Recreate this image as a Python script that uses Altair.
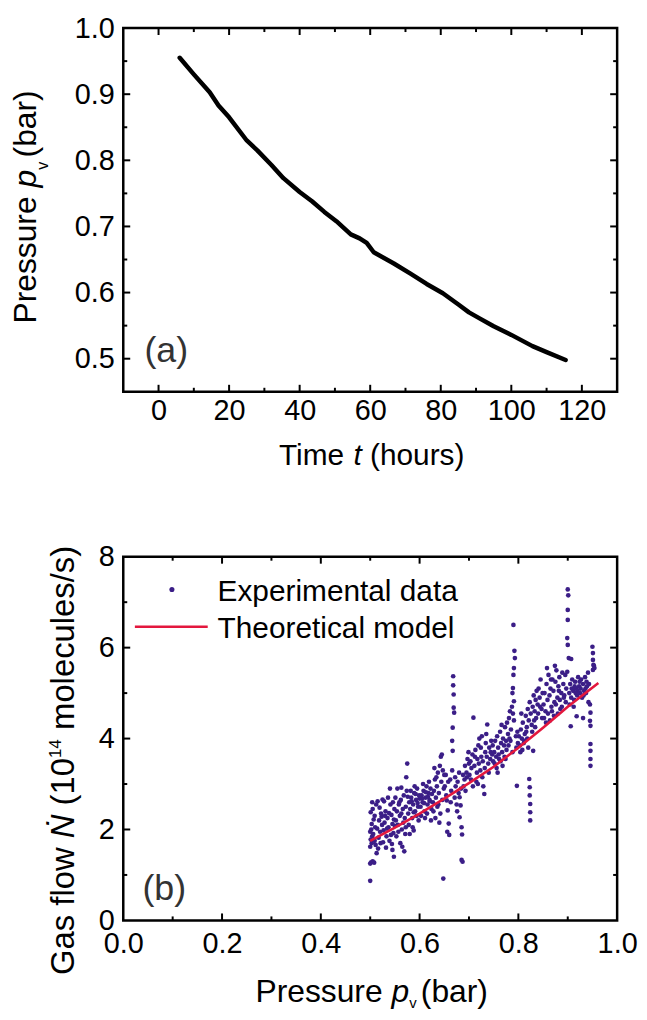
import altair as alt
import pandas as pd

FONT = "Liberation Sans"
INK = "#000000"
DOT = "#3b1e87"
RED = "#e3173d"
TAG = "#333333"

# ---------------- panel (a): pressure vs time ----------------
time_h = [6.0, 10, 14.5, 17, 20, 25, 28, 32, 35.4, 40, 43.5, 47, 50.4, 54.5, 57,
          59, 61, 66.7, 71.3, 76, 80.6, 85, 88, 91, 95, 100, 106, 110, 115.4]
pressure_a = [0.955, 0.930, 0.903, 0.883, 0.865, 0.830, 0.815, 0.793, 0.773, 0.752,
              0.738, 0.722, 0.708, 0.688, 0.682, 0.675, 0.661, 0.644, 0.629, 0.613,
              0.599, 0.582, 0.570, 0.561, 0.549, 0.536, 0.519, 0.510, 0.498]

a_x_labels = [0, 20, 40, 60, 80, 100, 120]
a_x_minor = [10, 30, 50, 70, 90, 110]
a_y_labels = [0.5, 0.6, 0.7, 0.8, 0.9, 1.0]
a_y_major = [0.5, 0.6, 0.7, 0.8, 0.9]
a_y_minor = [0.55, 0.65, 0.75, 0.85, 0.95]

# ---------------- panel (b): gas flow vs pressure ----------------
exp_points = [
    # 0.50 - 0.525
    (0.500, 0.87), (0.500, 1.25), (0.502, 1.28), (0.505, 1.30), (0.508, 1.27), (0.500, 1.62),
    (0.503, 1.70), (0.501, 1.78), (0.504, 1.85), (0.500, 1.95), (0.502, 2.00), (0.506, 1.90),
    (0.509, 1.75), (0.511, 1.66), (0.513, 1.48), (0.510, 2.05), (0.503, 2.12), (0.507, 2.22),
    (0.501, 2.38), (0.505, 2.45), (0.509, 2.30), (0.512, 2.55), (0.504, 2.60), (0.515, 2.62),
    (0.518, 2.20), (0.520, 1.95), (0.517, 1.82), (0.522, 2.35), (0.524, 2.10), (0.519, 2.48),
    (0.514, 2.02), (0.521, 1.70), (0.516, 1.58), (0.525, 2.66), (0.523, 2.28),
    # 0.525 - 0.55
    (0.527, 1.98), (0.529, 2.15), (0.531, 2.40), (0.533, 1.85), (0.535, 2.25), (0.537, 2.05),
    (0.539, 1.75), (0.541, 2.55), (0.543, 2.32), (0.545, 2.12), (0.547, 1.92), (0.549, 2.45),
    (0.528, 2.62), (0.532, 1.60), (0.536, 2.70), (0.540, 2.90), (0.544, 1.68), (0.548, 2.22),
    (0.530, 2.30), (0.534, 2.02), (0.538, 2.36), (0.542, 1.88), (0.546, 2.60), (0.550, 2.08),
    (0.526, 1.72), (0.545, 1.55), (0.548, 1.40),
    # 0.55 - 0.575
    (0.552, 2.20), (0.554, 2.40), (0.556, 2.10), (0.558, 2.55), (0.560, 2.30), (0.562, 2.65),
    (0.564, 2.00), (0.566, 2.45), (0.568, 2.75), (0.570, 2.25), (0.572, 2.50), (0.574, 2.85),
    (0.553, 1.85), (0.557, 1.95), (0.561, 1.70), (0.565, 1.62), (0.569, 1.52), (0.571, 1.90),
    (0.573, 3.15), (0.575, 3.45), (0.555, 2.90), (0.559, 2.60), (0.563, 2.35), (0.567, 2.15),
    (0.551, 2.70), (0.563, 2.92), (0.572, 2.05),
    # 0.575 - 0.60
    (0.577, 2.35), (0.579, 2.60), (0.581, 2.45), (0.583, 2.70), (0.585, 2.25), (0.587, 2.55),
    (0.589, 2.80), (0.591, 2.40), (0.593, 2.65), (0.595, 2.90), (0.597, 2.50), (0.599, 2.75),
    (0.578, 2.10), (0.582, 2.85), (0.586, 2.05), (0.590, 2.95), (0.594, 2.30), (0.598, 2.20),
    (0.580, 1.90), (0.584, 2.62), (0.588, 2.38), (0.592, 2.78), (0.596, 2.58), (0.600, 2.68),
    (0.576, 2.72), (0.588, 1.98),
    # 0.60 - 0.625
    (0.602, 2.50), (0.604, 2.75), (0.606, 2.60), (0.608, 2.85), (0.610, 2.40), (0.612, 2.70),
    (0.614, 2.95), (0.616, 2.55), (0.618, 2.80), (0.620, 2.65), (0.622, 2.90), (0.624, 2.45),
    (0.603, 2.30), (0.607, 3.00), (0.611, 2.25), (0.615, 2.35), (0.619, 3.05), (0.623, 2.20),
    (0.605, 2.68), (0.609, 2.58), (0.613, 2.82), (0.617, 2.72), (0.621, 2.62), (0.625, 2.78),
    # 0.625 - 0.65
    (0.627, 2.60), (0.629, 2.85), (0.631, 3.10), (0.633, 2.70), (0.635, 2.95), (0.637, 3.25),
    (0.639, 2.80), (0.641, 3.40), (0.643, 3.60), (0.645, 3.65), (0.647, 3.30), (0.649, 2.90),
    (0.628, 2.40), (0.632, 2.25), (0.636, 2.50), (0.640, 2.15), (0.644, 3.05), (0.648, 0.92),
    (0.646, 2.65), (0.642, 2.35), (0.630, 3.35), (0.634, 3.15), (0.638, 2.55), (0.650, 3.20),
    # 0.65 - 0.70
    (0.651, 2.95), (0.653, 3.20), (0.655, 2.64), (0.657, 2.42), (0.659, 2.13), (0.656, 1.95),
    (0.660, 1.88), (0.662, 3.10), (0.664, 2.85), (0.666, 3.30), (0.668, 5.37), (0.668, 5.17),
    (0.669, 4.97), (0.669, 4.68), (0.670, 4.57), (0.667, 4.24), (0.666, 3.95), (0.667, 3.73),
    (0.671, 2.70), (0.673, 2.95), (0.675, 2.55), (0.677, 3.05), (0.679, 2.80), (0.681, 2.71),
    (0.683, 2.53), (0.681, 2.27), (0.685, 2.05), (0.686, 1.89), (0.687, 1.29), (0.685, 1.33),
    (0.689, 2.95), (0.691, 3.10), (0.693, 2.85), (0.695, 3.25), (0.697, 3.55), (0.699, 3.70),
    (0.654, 2.75), (0.658, 3.05), (0.663, 2.60), (0.672, 3.15), (0.676, 2.40), (0.680, 3.25),
    (0.684, 2.90), (0.688, 3.20), (0.692, 3.40), (0.696, 3.15), (0.700, 3.45),
    # 0.70 - 0.75
    (0.701, 3.20), (0.703, 3.50), (0.705, 3.35), (0.707, 3.65), (0.709, 4.46), (0.711, 3.40),
    (0.713, 3.75), (0.715, 3.05), (0.717, 3.55), (0.719, 3.85), (0.721, 4.00), (0.723, 3.30),
    (0.725, 3.60), (0.727, 3.15), (0.729, 2.95), (0.731, 2.78), (0.733, 3.70), (0.735, 4.10),
    (0.737, 4.31), (0.739, 3.45), (0.741, 3.80), (0.743, 3.55), (0.745, 3.95), (0.747, 3.65),
    (0.749, 3.50), (0.704, 3.10), (0.708, 2.95), (0.712, 3.60), (0.716, 3.25), (0.720, 3.45),
    (0.724, 3.80), (0.728, 3.50), (0.732, 3.35), (0.736, 3.60), (0.740, 3.25), (0.744, 3.70),
    (0.748, 3.85), (0.718, 3.00), (0.726, 4.05), (0.734, 3.90),
    # 0.75 - 0.80
    (0.751, 3.70), (0.753, 3.95), (0.755, 3.60), (0.757, 4.05), (0.759, 3.80), (0.761, 3.55),
    (0.763, 4.15), (0.765, 3.90), (0.767, 3.70), (0.769, 4.00), (0.771, 3.85), (0.773, 4.25),
    (0.775, 3.95), (0.777, 4.35), (0.779, 4.10), (0.781, 4.45), (0.783, 4.60), (0.785, 4.20),
    (0.787, 4.70), (0.789, 4.55), (0.791, 4.40), (0.790, 6.50), (0.792, 5.93), (0.793, 5.77),
    (0.791, 5.55), (0.790, 5.40), (0.789, 5.11), (0.788, 5.00), (0.791, 4.82), (0.797, 2.96),
    (0.795, 4.05), (0.799, 3.90), (0.752, 3.45), (0.756, 3.35), (0.760, 3.65), (0.764, 3.50),
    (0.768, 3.40), (0.772, 3.60), (0.776, 3.75), (0.780, 3.85), (0.784, 3.95), (0.788, 3.70),
    (0.796, 3.80), (0.798, 4.15), (0.774, 3.55), (0.758, 3.25), (0.766, 4.30), (0.782, 4.00),
    # 0.80 - 0.85
    (0.801, 4.05), (0.803, 3.85), (0.805, 4.20), (0.807, 4.00), (0.809, 4.35), (0.811, 3.90),
    (0.813, 4.10), (0.815, 4.50), (0.817, 4.25), (0.819, 4.65), (0.821, 4.40), (0.823, 4.80),
    (0.825, 4.55), (0.827, 4.30), (0.829, 4.70), (0.831, 4.95), (0.833, 4.60), (0.835, 4.85),
    (0.837, 5.05), (0.839, 4.75), (0.841, 5.10), (0.843, 4.90), (0.845, 5.30), (0.847, 4.65),
    (0.849, 5.00), (0.822, 3.11), (0.823, 2.93), (0.823, 2.75), (0.824, 2.56), (0.824, 2.38),
    (0.824, 2.20), (0.830, 3.73), (0.804, 3.70), (0.808, 3.75), (0.812, 3.95), (0.816, 4.15),
    (0.820, 3.80), (0.828, 4.15), (0.832, 4.40), (0.836, 4.45), (0.840, 4.55), (0.844, 4.70),
    (0.848, 4.45), (0.806, 4.55), (0.818, 4.00), (0.834, 4.25),
    # 0.85 - 0.90
    (0.851, 4.75), (0.853, 5.00), (0.855, 4.60), (0.857, 5.20), (0.859, 4.85), (0.861, 5.40),
    (0.863, 4.95), (0.865, 5.10), (0.867, 4.70), (0.869, 5.30), (0.871, 5.05), (0.873, 4.80),
    (0.875, 5.25), (0.877, 5.50), (0.879, 4.90), (0.881, 5.15), (0.883, 5.35), (0.885, 4.65),
    (0.887, 5.00), (0.889, 5.45), (0.891, 5.20), (0.893, 4.95), (0.895, 5.40), (0.897, 5.10),
    (0.899, 5.47), (0.900, 7.28), (0.901, 7.15), (0.900, 6.83), (0.900, 6.61), (0.899, 6.21),
    (0.900, 6.06), (0.902, 5.77), (0.907, 5.75), (0.906, 4.27), (0.852, 4.45), (0.856, 4.35),
    (0.860, 4.55), (0.864, 4.40), (0.868, 4.60), (0.872, 4.50), (0.876, 4.75), (0.880, 4.55),
    (0.884, 4.85), (0.888, 4.70), (0.892, 4.90), (0.896, 4.80), (0.858, 5.55), (0.866, 5.30),
    (0.874, 5.60), (0.882, 5.05),
    # 0.90 - 0.96
    (0.903, 5.00), (0.905, 5.20), (0.907, 4.90), (0.909, 5.30), (0.911, 5.05), (0.913, 4.85),
    (0.915, 5.25), (0.917, 5.10), (0.919, 4.95), (0.921, 5.35), (0.923, 5.15), (0.925, 5.00),
    (0.927, 5.30), (0.929, 4.90), (0.931, 5.20), (0.933, 5.05), (0.935, 5.35), (0.937, 5.00),
    (0.939, 5.15), (0.941, 5.45), (0.943, 5.20), (0.904, 4.75), (0.912, 4.70), (0.918, 4.49),
    (0.931, 4.45), (0.945, 4.75), (0.946, 4.57), (0.945, 4.39), (0.946, 4.28), (0.946, 3.88),
    (0.946, 3.73), (0.946, 3.55), (0.946, 3.40), (0.950, 6.02), (0.951, 5.88), (0.951, 5.73),
    (0.952, 5.62), (0.951, 5.51), (0.953, 5.60), (0.954, 5.55), (0.908, 5.10), (0.914, 5.15),
    (0.920, 5.05), (0.926, 5.10), (0.932, 4.95), (0.938, 5.25), (0.924, 5.25), (0.936, 5.10),
    (0.916, 5.00), (0.942, 4.80),
]

model_p = [0.50, 0.55, 0.60, 0.65, 0.70, 0.75, 0.80, 0.85, 0.90, 0.962]
model_flow = [1.75, 2.04, 2.35, 2.68, 3.02, 3.38, 3.80, 4.24, 4.70, 5.22]

b_x_labels = [0.0, 0.2, 0.4, 0.6, 0.8, 1.0]
b_x_major = [0.2, 0.4, 0.6, 0.8]
b_x_minor = [0.1, 0.3, 0.5, 0.7, 0.9]
b_y_labels = [0, 2, 4, 6, 8]
b_y_major = [2, 4, 6]
b_y_minor = [1, 3, 5, 7]

legend_labels = ["Experimental data", "Theoretical model"]

# ---------------- layout helpers ----------------
W_PLOT, H_PLOT = 497, 366
MAJOR, MINOR = 7, 4

ARIAL = {' ': 278, '(': 333, ')': 333, '/': 278, '.': 278, '0': 556, '1': 556, '4': 556,
         'a': 556, 'b': 556, 'c': 500, 'd': 556, 'e': 556, 'f': 278, 'h': 556, 'i': 222,
         'l': 222, 'm': 833, 'n': 556, 'o': 556, 'p': 556, 'r': 333, 's': 500, 't': 278,
         'u': 556, 'v': 500, 'w': 722, 'G': 778, 'N': 722, 'P': 667, 'T': 611, '\u1e44': 722}


def text_width(s, size):
    return sum(ARIAL.get(c, 556) for c in s) * size / 1000.0


ONE = pd.DataFrame({"k": [0]})


def piece(text, x, y, size, style, angle):
    return alt.Chart(ONE).mark_text(
        text=text, font=FONT, fontSize=size, fontStyle=style, angle=angle,
        align="left", baseline="alphabetic", color=INK
    ).encode(x=alt.value(x), y=alt.value(y))


def title_h(parts, cx, base_y):
    total = sum(text_width(t, s) for t, s, _, _ in parts)
    x = cx - total / 2
    out = []
    for t, s, st, shift in parts:
        out.append(piece(t.rstrip(), x, base_y + shift, s, st, 0))
        x += text_width(t, s)
    return out


def title_v(parts, base_x, cy):
    total = sum(text_width(t, s) for t, s, _, _ in parts)
    y = cy + total / 2
    out = []
    for t, s, st, shift in parts:
        out.append(piece(t.rstrip(), base_x + shift, y, s, st, 270))
        y -= text_width(t, s)
    return out


def x_axis(values, fmt, pad):
    return alt.Axis(values=values, format=fmt, title=None, domain=False, ticks=False,
                    grid=False, labelFont=FONT, labelFontSize=29, labelColor=INK,
                    labelPadding=pad, labelFlush=False, labelOverlap=False,
                    labelBaseline="top", labelAlign="center")


def y_axis(values, fmt, pad):
    return alt.Axis(values=values, format=fmt, title=None, domain=False, ticks=False,
                    grid=False, labelFont=FONT, labelFontSize=29, labelColor=INK,
                    labelPadding=pad, labelFlush=False, labelOverlap=False,
                    labelBaseline="middle", labelAlign="right")


def tick_layers(xmaj, xmin, ymaj, ymin, xs, ys, xax, yax):
    out = []
    for vals, L in ((xmaj, MAJOR), (xmin, MINOR)):
        base = alt.Chart(pd.DataFrame({"v": vals})).mark_rule(color=INK, strokeWidth=2)
        xe = alt.X("v:Q", scale=xs, axis=xax)
        out.append(base.encode(x=xe, y=alt.value(H_PLOT), y2=alt.value(H_PLOT - L)))
        out.append(base.encode(x=xe, y=alt.value(0), y2=alt.value(L)))
    for vals, L in ((ymaj, MAJOR), (ymin, MINOR)):
        base = alt.Chart(pd.DataFrame({"v": vals})).mark_rule(color=INK, strokeWidth=2)
        ye = alt.Y("v:Q", scale=ys, axis=yax)
        out.append(base.encode(y=ye, x=alt.value(0), x2=alt.value(L)))
        out.append(base.encode(y=ye, x=alt.value(W_PLOT), x2=alt.value(W_PLOT - L)))
    return out


# ---------------- panel (a) ----------------
xs_a = alt.Scale(domain=[-10, 130], nice=False, zero=False)
ys_a = alt.Scale(domain=[0.45, 1.0], nice=False, zero=False)
xax_a = x_axis(a_x_labels, "d", 5)
yax_a = y_axis(a_y_labels, ".1f", 9)

df_a = pd.DataFrame({"t": time_h, "p": pressure_a})
line_a = alt.Chart(df_a).mark_line(color=INK, strokeWidth=4.5, strokeCap="round",
                                   strokeJoin="round").encode(
    x=alt.X("t:Q", scale=xs_a, axis=xax_a),
    y=alt.Y("p:Q", scale=ys_a, axis=yax_a),
    order="t:Q",
)
tag_a = alt.Chart(ONE).mark_text(text="(a)", font=FONT, fontSize=36, color=TAG,
                                 align="center", baseline="middle").encode(
    x=alt.datum(2.2, scale=xs_a, axis=xax_a), y=alt.datum(0.512, scale=ys_a, axis=yax_a))

layers_a = [line_a, tag_a] + tick_layers(a_x_labels, a_x_minor, a_y_major, a_y_minor,
                                         xs_a, ys_a, xax_a, yax_a)
layers_a += title_v([("Pressure ", 32, "normal", 0), ("p", 32, "italic", 0),
                     ("v ", 16, "normal", 12), ("(bar)", 32, "normal", 0)], -88, 180)
layers_a += title_h([("Time ", 30, "normal", 0), ("t ", 30, "italic", 0),
                     ("(hours)", 30, "normal", 0)], 250, 440)
chart_a = alt.layer(*layers_a).properties(width=W_PLOT, height=H_PLOT)

# ---------------- panel (b) ----------------
xs_b = alt.Scale(domain=[0, 1.0], nice=False, zero=False)
ys_b = alt.Scale(domain=[0, 8], nice=False, zero=False)
xax_b = x_axis(b_x_labels, ".1f", 9)
yax_b = y_axis(b_y_labels, "d", 9)

df_exp = pd.DataFrame(exp_points, columns=["p", "n"])
dots = alt.Chart(df_exp).mark_circle(size=22, color=DOT, opacity=1).encode(
    x=alt.X("p:Q", scale=xs_b, axis=xax_b),
    y=alt.Y("n:Q", scale=ys_b, axis=yax_b),
)
df_model = pd.DataFrame({"p": model_p, "n": model_flow})
model = alt.Chart(df_model).mark_line(color=RED, strokeWidth=2.6).encode(
    x=alt.X("p:Q", scale=xs_b, axis=xax_b), y=alt.Y("n:Q", scale=ys_b, axis=yax_b))

leg_dot = alt.Chart(ONE).mark_circle(size=26, color=DOT, opacity=1).encode(
    x=alt.datum(0.0985, scale=xs_b, axis=xax_b), y=alt.datum(7.28, scale=ys_b, axis=yax_b))
leg_line = alt.Chart(ONE).mark_rule(color=RED, strokeWidth=2.6).encode(
    x=alt.datum(0.0235, scale=xs_b, axis=xax_b), x2=alt.datum(0.171),
    y=alt.datum(6.46, scale=ys_b, axis=yax_b))
leg_t1 = alt.Chart(ONE).mark_text(text=legend_labels[0], font=FONT, fontSize=30, color=INK,
                                  align="left", baseline="alphabetic").encode(
    x=alt.datum(0.191, scale=xs_b, axis=xax_b), y=alt.datum(7.02, scale=ys_b, axis=yax_b))
leg_t2 = alt.Chart(ONE).mark_text(text=legend_labels[1], font=FONT, fontSize=30, color=INK,
                                  align="left", baseline="alphabetic").encode(
    x=alt.datum(0.191, scale=xs_b, axis=xax_b), y=alt.datum(6.21, scale=ys_b, axis=yax_b))
tag_b = alt.Chart(ONE).mark_text(text="(b)", font=FONT, fontSize=36, color=TAG,
                                 align="center", baseline="middle").encode(
    x=alt.datum(0.083, scale=xs_b, axis=xax_b), y=alt.datum(0.68, scale=ys_b, axis=yax_b))

layers_b = [dots, model, leg_dot, leg_line, leg_t1, leg_t2, tag_b]
layers_b += tick_layers(b_x_major, b_x_minor, b_y_major, b_y_minor, xs_b, ys_b, xax_b, yax_b)
layers_b += title_v([("Gas flow ", 33, "normal", 0), ("\u1e44 ", 33, "italic", 0),
                     ("(10", 33, "normal", 0), ("14  ", 17, "normal", -13),
                     ("molecules/s)", 33, "normal", 0)], -50, 205)
layers_b += title_h([("Pressure ", 32, "normal", 0), ("p", 32, "italic", 0),
                     ("v ", 15, "normal", 6), ("(bar)", 32, "normal", 0)], 250, 448)
chart_b = alt.layer(*layers_b).properties(width=W_PLOT, height=H_PLOT)

chart = alt.vconcat(chart_a, chart_b, spacing=166, bounds="flush").properties(
    padding={"left": 0, "top": 1, "right": 0, "bottom": 0},
    background="white",
).configure_view(stroke=INK, strokeWidth=2.5)

chart.save("out.html", embed_options={"renderer": "svg", "actions": False})
